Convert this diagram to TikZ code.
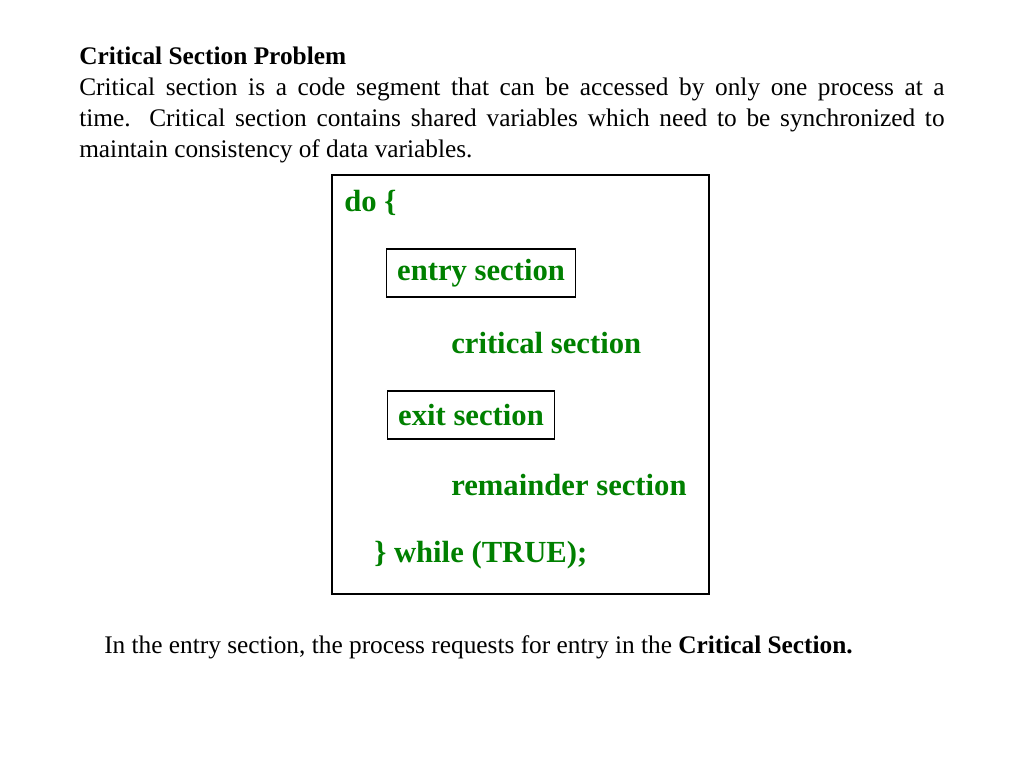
\documentclass[tikz,border=0pt]{standalone}
\usepackage{fontspec}
\setmainfont{Liberation Serif}
\usetikzlibrary{positioning}
\definecolor{codegreen}{RGB}{0,128,0}

\begin{document}
\begin{tikzpicture}[x=0.75pt, y=-0.75pt,
  bodytext/.style={anchor=north west, inner sep=0pt, font=\fontsize{19pt}{23.2pt}\selectfont},
  code/.style={anchor=west, inner sep=0pt, text=codegreen, font=\fontsize{23pt}{27pt}\selectfont\bfseries},
  codebox/.style={code, draw=black, thick, inner xsep=8pt, minimum height=36pt}]

% page frame
\useasboundingbox (0,0) rectangle (1024,768);

% heading and paragraph
\node[bodytext, text width=649pt, align=justify] (intro) at (79,47)
  {\textbf{Critical Section Problem}\\
   Critical section is a code segment that can be accessed by only one process at a\linebreak
   time. Critical section contains shared variables which need to be synchronized to\linebreak
   maintain consistency of data variables.};

% outer frame of the code
\draw[line width=2.2pt] (332,175) rectangle (709,594);

% code lines
\node[code] (doline) at (344,203) {do \{};
\node[codebox] (entry) at (386,273) {entry section};
\node[code] (critical) at (451,343) {critical section};
\node[codebox] (exit) at (387,415) {exit section};
\node[code] (remainder) at (451,485) {remainder section};
\node[code] (whileline) at (374,555) {\} while (TRUE);};

% note below
\node[bodytext] (note) at (104,635)
  {In the entry section, the process requests for entry in the \textbf{Critical Section.}};

\end{tikzpicture}
\end{document}
